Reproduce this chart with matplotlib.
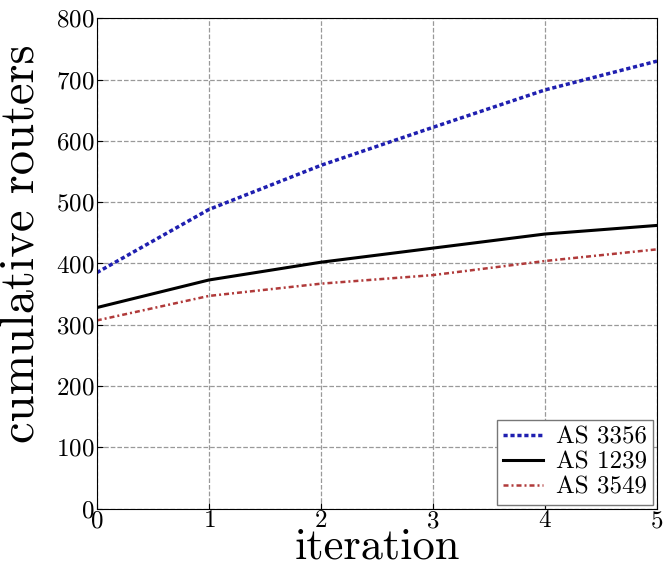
import matplotlib
matplotlib.use("Agg")
import matplotlib.pyplot as plt

# data
iterations = [0, 1, 2, 3, 4, 5]
as3356 = [385, 488, 560, 622, 683, 730]
as1239 = [328, 373, 402, 425, 448, 462]
as3549 = [307, 347, 367, 381, 404, 423]

plt.rcParams['font.family'] = ['cmr10', 'DejaVu Serif']
plt.rcParams['axes.formatter.use_mathtext'] = True
plt.rcParams['mathtext.fontset'] = 'cm'

fig = plt.figure(figsize=(6.63, 5.69), dpi=100)
ax = fig.add_axes([0.146, 0.106, 0.845, 0.862])

ax.plot(iterations, as3356, color='#1f1fb0', linestyle=(0, (1.2, 0.8)), linewidth=2.5, label='AS 3356')
ax.plot(iterations, as1239, color='black', linestyle='-', linewidth=2.2, label='AS 1239')
ax.plot(iterations, as3549, color='#b03a3a', linestyle=(0, (2, 1.2, 0.8, 1.2)), linewidth=1.8, label='AS 3549')

ax.set_xlim(0, 5)
ax.set_ylim(0, 800)
ax.set_xticks(iterations)
ax.set_yticks(range(0, 801, 100))
ax.tick_params(direction='in', labelsize=18, length=4, pad=2)
ax.tick_params(axis='x', pad=1)
ax.grid(True, linestyle='--', color='#999999', linewidth=0.9)

ax.set_xlabel('iteration', fontsize=32)
ax.set_ylabel('cumulative routers', fontsize=35)
ax.xaxis.set_label_coords(0.5685, 0.003, transform=fig.transFigure)
ax.xaxis.label.set_va('bottom')
ax.xaxis.label.set_ha('center')
ax.yaxis.set_label_coords(-0.095, 0.54, transform=ax.transAxes)

leg = ax.legend(loc='lower right', fontsize=18, fancybox=False, framealpha=1,
                edgecolor='#777777', borderpad=0.25, labelspacing=0.1,
                handlelength=1.6, handletextpad=0.5, borderaxespad=0.15)

fig.savefig('out.png', dpi=100)
